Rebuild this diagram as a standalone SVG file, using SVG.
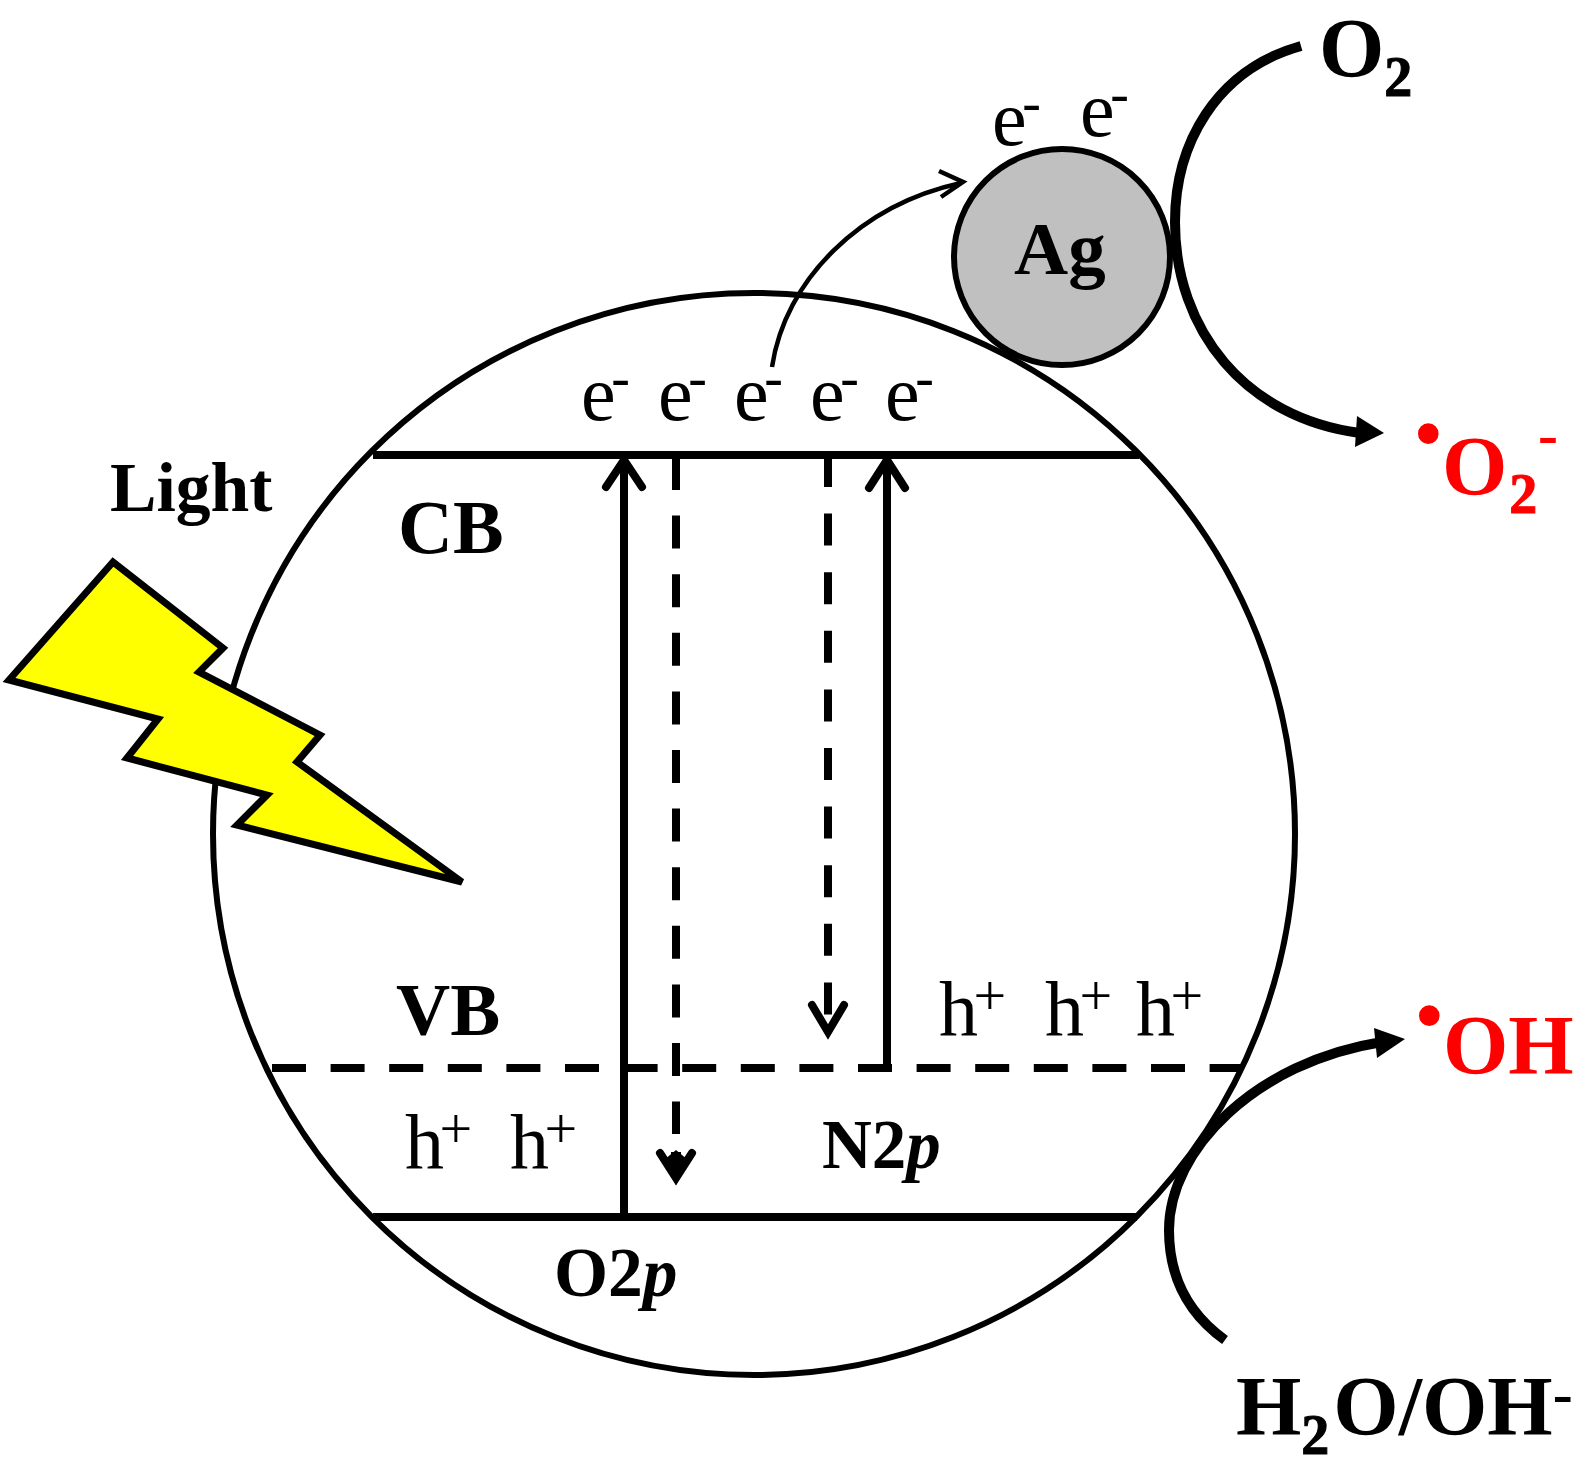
<svg xmlns="http://www.w3.org/2000/svg" width="1593" height="1484" viewBox="0 0 1593 1484">
<defs>
<style>
text{font-family:"Liberation Serif","Times New Roman",serif;fill:#000}
.b{font-weight:bold}
.r{fill:#f00}
.n{font-size:78px;letter-spacing:-4.5px}
.sup{font-size:56px}
.plus{font-size:58px}
.big{font-size:84px;font-weight:bold}
.sub{font-size:56px;font-weight:bold;stroke:#000;stroke-width:1}
.subr{font-size:56px;font-weight:bold;fill:#f00;stroke:#f00;stroke-width:1}
.hy{font-size:60px;font-weight:bold}
.dot{font-size:76px;font-weight:bold}
.lvl{fill:none;stroke:#000;stroke-width:8}
.cv{fill:none;stroke:#000;stroke-width:10}
.hd{fill:none;stroke:#000;stroke-width:8;stroke-linecap:round;stroke-linejoin:miter}
</style>
</defs>
<rect width="1593" height="1484" fill="#fff"/>
<g id="particle"><circle cx="754" cy="834" r="541" fill="none" stroke="#000" stroke-width="6"/></g>
<g id="ag"><circle cx="1062" cy="257" r="108" fill="#c0c0c0" stroke="#000" stroke-width="6"/>
<text x="1014" y="274" class="b" font-size="75">Ag</text></g>
<g id="light"><polygon points="113,562 223,648 199,672 320,735 297,762 462,882 237,825 267,795 127,758 158,719 9,680" fill="#ff0" stroke="#000" stroke-width="7" stroke-linejoin="miter"/>
<text x="110" y="511" class="b" font-size="69.6">Light</text></g>
<g id="connectors">
<line id="cb-line" class="lvl" x1="373" y1="455" x2="1139" y2="455"/>
<line id="vb-line" class="lvl" x1="272" y1="1068" x2="1241" y2="1068" stroke-dasharray="34 24.6"/>
<line id="o2p-line" class="lvl" x1="373" y1="1217" x2="1137" y2="1217"/>
<line class="lvl" x1="624" y1="1217" x2="624" y2="462"/>
<path class="hd" d="M606 487L624 460L642 487"/>
<path class="lvl" d="M887 1072V462"/>
<path class="hd" d="M869 488L887 460L905 488"/>
<line class="lvl" x1="676" y1="457" x2="676" y2="1134" stroke-dasharray="33 25.6"/>
<path class="hd" d="M660 1153L676 1178L692 1153"/>
<path d="M671 1152H681V1170H671Z" fill="#000"/>
<path d="M664 1160L676 1185L688 1160L676 1150Z" fill="#000"/>
<line class="lvl" x1="828" y1="455" x2="828" y2="1030" stroke-dasharray="32 26.6"/>
<path class="hd" d="M812 1005L828 1032L844 1005"/>
<path d="M772 367C785 280 860 205 961 183" fill="none" stroke="#000" stroke-width="4.5"/>
<path d="M939 171L963 182L941 197" fill="none" stroke="#000" stroke-width="4.5"/>
<path class="cv" d="M1301 46C1215 70 1175 145 1175 222C1175 330 1245 418 1360 433"/>
<polygon points="1384,433 1357,416 1355,447"/>
<path class="cv" d="M1225 1340C1190 1315 1169 1280 1169 1230C1169 1150 1255 1062 1382 1042"/>
<polygon points="1405,1039 1374,1028 1377,1058"/>
</g>
<g id="electrons-cb">
<text x="581" y="420" class="n">e<tspan class="sup" dy="-24">-</tspan></text>
<text x="658" y="420" class="n">e<tspan class="sup" dy="-24">-</tspan></text>
<text x="734" y="420" class="n">e<tspan class="sup" dy="-24">-</tspan></text>
<text x="810" y="420" class="n">e<tspan class="sup" dy="-24">-</tspan></text>
<text x="885" y="420" class="n">e<tspan class="sup" dy="-24">-</tspan></text>
</g>
<g id="electrons-ag">
<text x="992" y="145" class="n">e<tspan class="sup" dy="-24">-</tspan></text>
<text x="1080" y="136" class="n">e<tspan class="sup" dy="-24">-</tspan></text>
</g>
<g id="holes">
<text x="405" y="1169" class="n">h<tspan class="plus" dy="-21">+</tspan></text>
<text x="510" y="1169" class="n">h<tspan class="plus" dy="-21">+</tspan></text>
<text x="939" y="1036" class="n">h<tspan class="plus" dy="-21">+</tspan></text>
<text x="1045" y="1036" class="n">h<tspan class="plus" dy="-21">+</tspan></text>
<text x="1136" y="1036" class="n">h<tspan class="plus" dy="-21">+</tspan></text>
</g>
<g id="band-labels">
<text id="cb" x="398" y="553" class="b" font-size="76">CB</text>
<text id="vb" x="396" y="1035" class="b" font-size="75">VB</text>
<text id="n2p" x="822" y="1168" class="b" font-size="69">N2<tspan font-style="italic">p</tspan></text>
<text id="o2p" x="554" y="1296" class="b" font-size="69.5">O2<tspan font-style="italic">p</tspan></text>
</g>
<g id="o2"><text x="1319" y="77" class="big">O<tspan class="sub" dy="19">2</tspan></text></g>
<g id="superoxide"><text x="1415" y="459" class="r dot">•</text>
<text x="1442" y="495" class="big r">O<tspan class="subr" dx="2" dy="18">2</tspan></text>
<text x="1538" y="454" class="hy r">-</text></g>
<g id="hydroxyl"><text x="1416" y="1041" class="r dot">•</text>
<text x="1443" y="1074" class="big r" font-size="85">OH</text></g>
<g id="water"><text x="1236" y="1435" class="big">H<tspan class="sub" dy="19">2</tspan><tspan dx="4" dy="-19">O/OH</tspan><tspan class="hy" dy="-22">-</tspan></text></g>
</svg>
